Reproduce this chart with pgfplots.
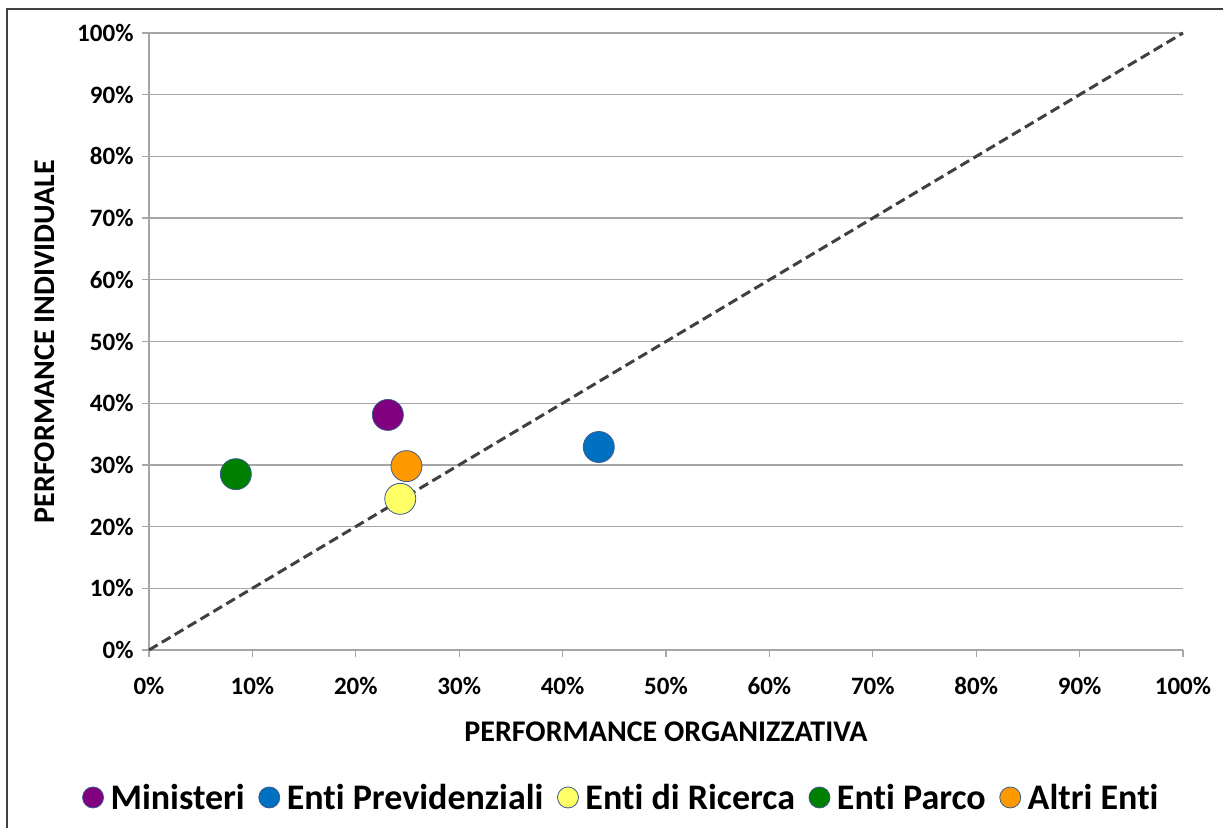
\documentclass[border=0pt]{standalone}
\usepackage{fontspec}
\setmainfont{Carlito}[Ligatures={NoCommon}]
\usepackage{pgfplots}
\pgfplotsset{compat=1.18}
\definecolor{cMin}{HTML}{800080}
\definecolor{cPrev}{HTML}{0070C0}
\definecolor{cRic}{HTML}{FFFF66}
\definecolor{cParco}{HTML}{008000}
\definecolor{cAltri}{HTML}{FF9900}
\definecolor{edgec}{HTML}{3C5A8A}
\definecolor{gridc}{HTML}{A6A6A6}
\begin{document}
\begin{tikzpicture}
\useasboundingbox (0,0) rectangle (1223bp,828bp);
\draw[line width=2bp, color=black!75] (7bp,-20bp) -- (7bp,819bp) -- (1250bp,819bp);
\begin{axis}[
  at={(149bp,178bp)}, anchor=south west,
  scale only axis, width=1034bp, height=617bp,
  xmin=0, xmax=100, ymin=0, ymax=100,
  xtick={0,10,...,100}, ytick={0,10,...,100},
  xticklabels={0\%,10\%,20\%,30\%,40\%,50\%,60\%,70\%,80\%,90\%,100\%},
  yticklabels={0\%,10\%,20\%,30\%,40\%,50\%,60\%,70\%,80\%,90\%,100\%},
  axis x line=bottom, axis y line=left,
  axis line style={draw=gridc, line width=1.3bp, -},
  ymajorgrids, grid style={draw=gridc, line width=1.3bp},
  tick align=outside, major tick length=7bp,
  tick style={draw=gridc, line width=1.3bp},
  xticklabel style={font=\fontsize{25bp}{28bp}\selectfont\bfseries, yshift=-17bp, text height=17bp, text depth=0bp},
  yticklabel style={font=\fontsize{25bp}{28bp}\selectfont\bfseries, xshift=-5bp},
  xlabel={PERFORMANCE ORGANIZZATIVA},
  ylabel={PERFORMANCE INDIVIDUALE},
  xlabel style={font=\fontsize{30bp}{34bp}\selectfont\bfseries, at={(axis description cs:0.5,0)}, yshift=-82bp, anchor=center},
  ylabel style={font=\fontsize{30bp}{34bp}\selectfont\bfseries, at={(axis description cs:0,0.5)}, yshift=104bp, anchor=center},
  legend columns=5,
  legend style={draw=none, fill=none, at={(axis description cs:0.457,-0.239)}, anchor=center,
    font=\fontsize{36bp}{40bp}\selectfont\bfseries,
    /tikz/every odd column/.append style={column sep=5bp},
    /tikz/every even column/.append style={column sep=12bp}},
  legend image code/.code={\draw[#1, mark size=10.5bp] plot coordinates {(0bp,0bp)};},
  clip=false,
]
\addplot[color=black!75, line width=3bp, dash pattern=on 10bp off 5bp, forget plot] coordinates {(0,0) (100,100)};
\addplot[only marks, mark=*, mark size=15.5bp, mark options={fill=cMin, draw=edgec, line width=0.8bp}] coordinates {(23.1,38.1)};
\addlegendentry{Ministeri}
\addplot[only marks, mark=*, mark size=15.5bp, mark options={fill=cPrev, draw=edgec, line width=0.8bp}] coordinates {(43.5,32.9)};
\addlegendentry{Enti Previdenziali}
\addplot[only marks, mark=*, mark size=15.5bp, mark options={fill=cRic, draw=edgec, line width=0.8bp}] coordinates {(24.3,24.5)};
\addlegendentry{Enti di Ricerca}
\addplot[only marks, mark=*, mark size=15.5bp, mark options={fill=cParco, draw=edgec, line width=0.8bp}] coordinates {(8.4,28.5)};
\addlegendentry{Enti Parco}
\addplot[only marks, mark=*, mark size=15.5bp, mark options={fill=cAltri, draw=edgec, line width=0.8bp}] coordinates {(24.9,29.8)};
\addlegendentry{Altri Enti}
\end{axis}
\end{tikzpicture}
\end{document}
